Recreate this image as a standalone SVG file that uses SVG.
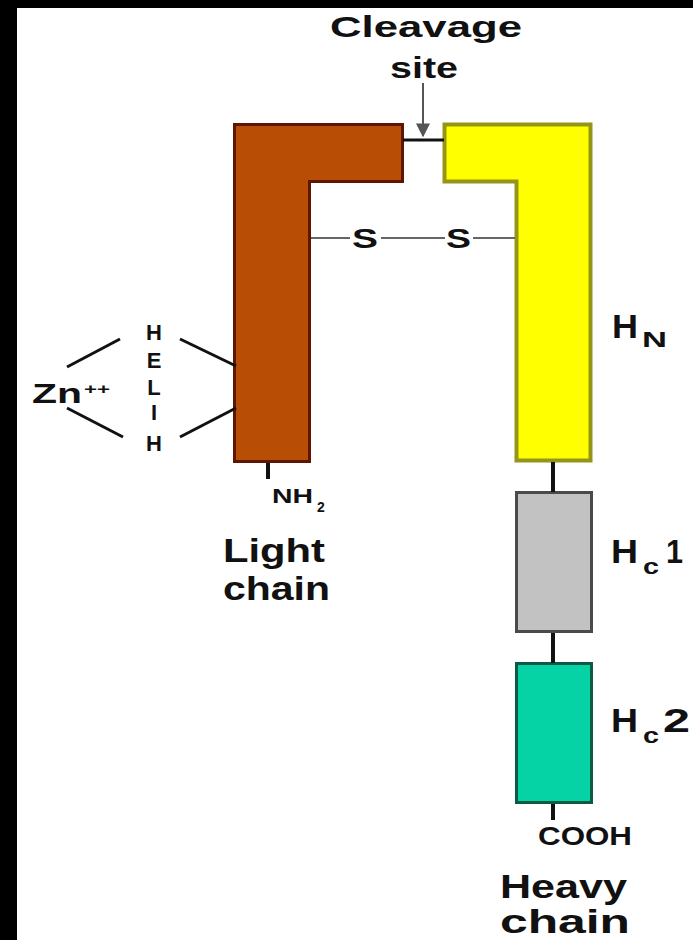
<svg xmlns="http://www.w3.org/2000/svg" width="693" height="940" viewBox="0 0 693 940">
<defs>
<style>
text{font-family:"Liberation Sans",Arial,sans-serif;font-weight:bold;fill:#111}
.lbl{font-size:33px}
.sm{font-size:22px}
.ln{stroke:#111;stroke-width:3;fill:none}
.thin{stroke:#666;stroke-width:2;fill:none}
.tick{stroke:#111;stroke-width:4;fill:none}
</style>
<marker id="ah" viewBox="0 0 10 10" refX="9" refY="5" markerWidth="7" markerHeight="7" orient="auto">
<path d="M0,0 L10,5 L0,10 z" fill="#555"/>
</marker>
</defs>
<rect x="0" y="0" width="693" height="940" fill="#ffffff"/>
<rect x="0" y="0" width="17" height="940" fill="#000"/>
<rect x="0" y="0" width="693" height="8" fill="#000"/>

<g id="light-chain">
<polygon points="234.5,124.5 402.5,124.5 402.5,181.5 309.5,181.5 309.5,461.5 234.5,461.5" fill="#b84e06" stroke="#5e1600" stroke-width="3"/>
</g>

<g id="heavy-chain-hn">
<polygon points="444.5,124.5 590.5,124.5 590.5,460.5 516.5,460.5 516.5,181.5 444.5,181.5" fill="#ffff00" stroke="#959518" stroke-width="4"/>
</g>

<g id="hc1">
<rect x="516.5" y="492.5" width="75" height="139" fill="#c2c2c2" stroke="#4a4a4a" stroke-width="3"/>
</g>

<g id="hc2">
<rect x="516.5" y="663.5" width="75" height="139" fill="#05d3a6" stroke="#0b5a44" stroke-width="3"/>
</g>

<g id="connectors">
<line class="ln" x1="403" y1="140" x2="444" y2="140"/>
<line x1="423" y1="83" x2="423" y2="136" stroke="#555" stroke-width="2" marker-end="url(#ah)"/>
<line class="thin" x1="311" y1="238" x2="350" y2="238"/>
<line class="thin" x1="381" y1="238" x2="445" y2="238"/>
<line class="thin" x1="473" y1="238" x2="515" y2="238"/>
<line class="ln" x1="67" y1="367" x2="120" y2="339"/>
<line class="ln" x1="67" y1="408" x2="123" y2="437"/>
<line class="ln" x1="180" y1="339" x2="236" y2="366"/>
<line class="ln" x1="180" y1="437" x2="236" y2="408"/>
<line class="tick" x1="268" y1="463" x2="268" y2="479"/>
<line class="tick" x1="553" y1="462" x2="553" y2="492"/>
<line class="tick" x1="553" y1="633" x2="553" y2="663"/>
<line class="tick" x1="553" y1="804" x2="553" y2="820"/>
</g>

<g id="labels">
<text x="330" y="37" font-size="30" textLength="192" lengthAdjust="spacingAndGlyphs">Cleavage</text>
<text x="390" y="78" font-size="30" textLength="68" lengthAdjust="spacingAndGlyphs">site</text>
<text x="352" y="248" font-size="28" textLength="26" lengthAdjust="spacingAndGlyphs">S</text>
<text x="446" y="248" font-size="28" textLength="25" lengthAdjust="spacingAndGlyphs">S</text>
<g font-size="22" text-anchor="middle">
<text x="154" y="340">H</text>
<text x="154" y="368">E</text>
<text x="154" y="395">L</text>
<text x="154" y="420">I</text>
<text x="154" y="451">H</text>
</g>
<text x="32" y="403" font-size="28" textLength="50" lengthAdjust="spacingAndGlyphs">Zn</text>
<text x="84" y="394" font-size="15" textLength="26" lengthAdjust="spacingAndGlyphs">++</text>
<text x="272" y="503" font-size="21" textLength="41" lengthAdjust="spacingAndGlyphs">NH</text>
<text x="317" y="512" font-size="14">2</text>
<text x="223" y="562" class="lbl" textLength="102" lengthAdjust="spacingAndGlyphs">Light</text>
<text x="223" y="600" class="lbl" textLength="107" lengthAdjust="spacingAndGlyphs">chain</text>
<text x="612" y="338" font-size="34" textLength="26" lengthAdjust="spacingAndGlyphs">H</text>
<text x="642" y="347" class="sm" textLength="25" lengthAdjust="spacingAndGlyphs">N</text>
<text x="611" y="563" font-size="34" textLength="27" lengthAdjust="spacingAndGlyphs">H</text>
<text x="643" y="574" class="sm" textLength="16" lengthAdjust="spacingAndGlyphs">c</text>
<text x="666" y="563" font-size="34" textLength="17" lengthAdjust="spacingAndGlyphs">1</text>
<text x="611" y="732" font-size="34" textLength="27" lengthAdjust="spacingAndGlyphs">H</text>
<text x="643" y="743" class="sm" textLength="16" lengthAdjust="spacingAndGlyphs">c</text>
<text x="663" y="732" font-size="34" textLength="27" lengthAdjust="spacingAndGlyphs">2</text>
<text x="538" y="845" font-size="26" textLength="94" lengthAdjust="spacingAndGlyphs">COOH</text>
<text x="500" y="898" font-size="34" textLength="127" lengthAdjust="spacingAndGlyphs">Heavy</text>
<text x="500" y="933" font-size="34" textLength="130" lengthAdjust="spacingAndGlyphs">chain</text>
</g>
</svg>
